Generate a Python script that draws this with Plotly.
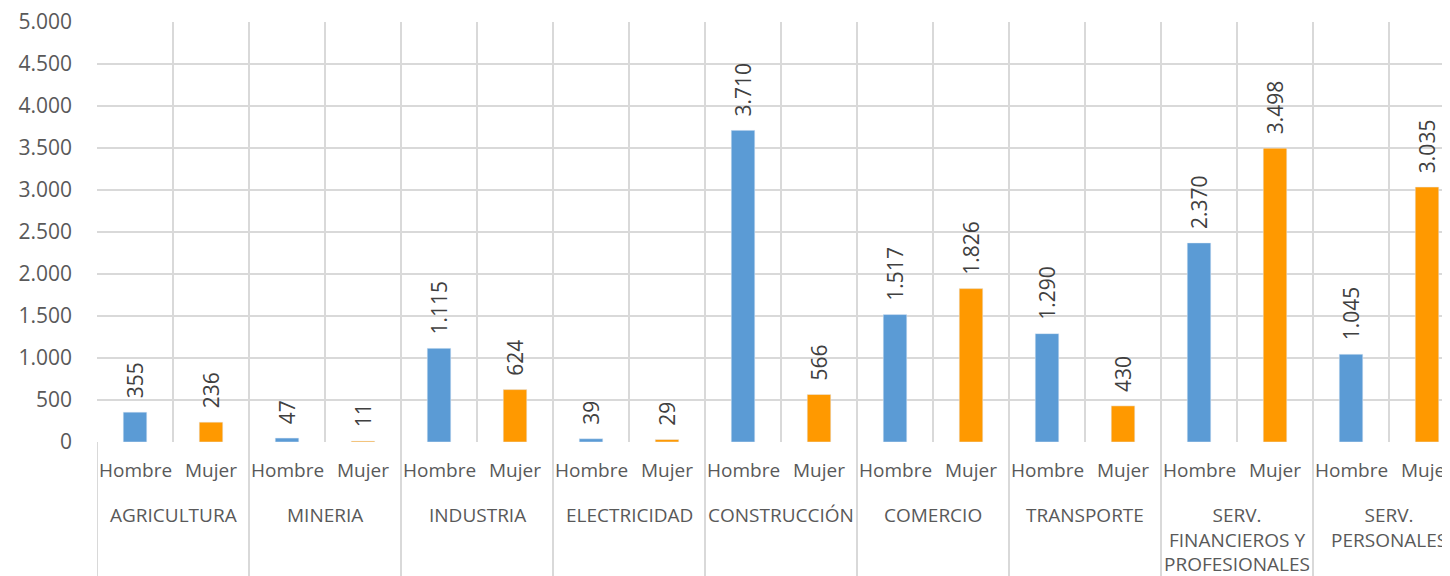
import plotly.graph_objects as go

sectors = ["AGRICULTURA", "MINERIA", "INDUSTRIA", "ELECTRICIDAD", "CONSTRUCCIÓN",
           "COMERCIO", "TRANSPORTE", "SERV.<br>FINANCIEROS Y<br>PROFESIONALES", "SERV.<br>PERSONALES"]
sexes = ["Hombre", "Mujer"]
hombre = [355, 47, 1115, 39, 3710, 1517, 1290, 2370, 1045]
mujer = [236, 11, 624, 29, 566, 1826, 430, 3498, 3035]

FONT = "Open Sans"
TXT = "#595959"
GRID = "#D9D9D9"

n = len(sectors)
xh = [2 * i for i in range(n)]
xm = [2 * i + 1 for i in range(n)]

fig = go.Figure()
for xs, ys, name, col in [(xh, hombre, "Hombre", "#5B9BD5"), (xm, mujer, "Mujer", "#FF9900")]:
    fig.add_trace(go.Bar(x=xs, y=ys, name=name, marker_color=col, width=0.31,
                         text=ys, texttemplate="\u00a0\u00a0%{y:,}", textposition="outside",
                         textangle=-90, constraintext="none",
                         textfont=dict(family=FONT, size=21, color="#404040"), cliponaxis=False))

# page body has an 8px offset; target plot area in page px: left 97, top 22, bottom 442, right 1450
OFF = 8
left, top = 97 - OFF, 22 - OFF
plot_h = 420
bottom = 576 - top - plot_h
right = OFF
slot = 76.0
xmax = -0.5 + (1450 - 97) / slot

shapes = []
annotations = []
for i in range(n + 1):
    shapes.append(dict(type="line", xref="x", yref="paper", x0=2 * i - 0.5, x1=2 * i - 0.5,
                       y0=0, y1=-(bottom + 5) / plot_h, line=dict(color=GRID, width=2)))
for i in range(n):
    for j, s in enumerate(sexes):
        annotations.append(dict(xref="x", yref="paper", x=2 * i + j, y=-(470 - 442) / plot_h,
                                text=s, showarrow=False, yanchor="middle", xanchor="center",
                                font=dict(family=FONT, size=19, color=TXT)))
    annotations.append(dict(xref="x", yref="paper", x=2 * i + 0.5, y=-(500 - 442) / plot_h,
                            text=sectors[i], showarrow=False, yanchor="top", xanchor="center",
                            font=dict(family=FONT, size=19, color=TXT)))

fig.update_layout(
    width=1450, height=576,
    margin=dict(l=left, r=right, t=top, b=bottom, autoexpand=False),
    plot_bgcolor="white", paper_bgcolor="white",
    separators=",.",
    showlegend=False,
    shapes=shapes, annotations=annotations,
    font=dict(family=FONT, color=TXT),
)
fig.update_xaxes(range=[-0.5, xmax], tickvals=[k - 0.5 for k in range(2 * n + 1)],
                 showticklabels=False, showgrid=True, gridcolor=GRID, gridwidth=2,
                 zeroline=False, showline=False, ticks="", automargin=False)
fig.update_yaxes(range=[0, 5000], dtick=500, tickformat=",d", showgrid=True, gridcolor=GRID,
                 gridwidth=2, zeroline=False, showline=False, ticks="", ticklabelstandoff=24,
                 ticklabeloverflow="allow",
                 automargin=False, tickfont=dict(family=FONT, size=21, color=TXT))

fig.write_html("out.html")
